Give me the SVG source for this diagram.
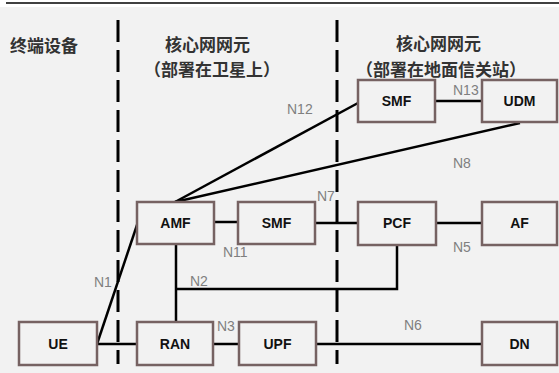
<svg xmlns="http://www.w3.org/2000/svg" width="559" height="373" viewBox="0 0 559 373">
<style>
.box{fill:#f2f2f2;stroke:#766262;stroke-width:2.5}
.bl{font-family:"Liberation Sans",Arial,sans-serif;font-weight:bold;font-size:14px;fill:#111;text-anchor:middle}
.ln{stroke:#000;stroke-width:2.5;fill:none}
.dash{stroke:#000;stroke-width:3;stroke-dasharray:22 8;fill:none}
.lab{font-family:"Liberation Sans",Arial,sans-serif;font-size:14px;fill:#7f7f7f}
.hd{font-family:"Noto Sans CJK SC","Noto Sans CJK JP",sans-serif;font-weight:bold;font-size:17px;fill:#333}
</style>
<rect x="0" y="0" width="559" height="373" fill="#f2f2f2"/>
<rect x="0" y="0" width="559" height="7" fill="#ffffff"/>
<line x1="6" y1="3" x2="559" y2="3" stroke="#404040" stroke-width="2"/>
<g id="headings">
<text class="hd" x="10" y="52">终端设备</text>
<text class="hd" x="165" y="51">核心网网元</text>
<text class="hd" x="144" y="76">（部署在卫星上）</text>
<text class="hd" x="396" y="50">核心网网元</text>
<text class="hd" x="356" y="76">（部署在地面信关站）</text>
</g>
<g id="dividers">
<line class="dash" x1="118" y1="20" x2="118" y2="364"/>
<line class="dash" x1="337" y1="20" x2="337" y2="364"/>
</g>
<g id="connectors">
<line class="ln" x1="97" y1="344" x2="137" y2="344"/>
<line class="ln" x1="97" y1="344" x2="138" y2="222"/>
<line class="ln" x1="213" y1="344" x2="239" y2="344"/>
<line class="ln" x1="316" y1="344" x2="482" y2="344"/>
<line class="ln" x1="176" y1="244" x2="176" y2="322"/>
<polyline class="ln" points="176,289 397,289 397,245"/>
<line class="ln" x1="214" y1="222" x2="238" y2="222"/>
<line class="ln" x1="315" y1="223" x2="358" y2="223"/>
<line class="ln" x1="436" y1="223" x2="482" y2="223"/>
<line class="ln" x1="435" y1="101" x2="482" y2="101"/>
<line class="ln" x1="175" y1="202" x2="358" y2="103"/>
<line class="ln" x1="175" y1="202" x2="520" y2="123"/>
</g>
<g id="labels">
<text class="lab" x="287" y="114">N12</text>
<text class="lab" x="453" y="95">N13</text>
<text class="lab" x="453" y="168">N8</text>
<text class="lab" x="317" y="201">N7</text>
<text class="lab" x="223" y="257">N11</text>
<text class="lab" x="190" y="286">N2</text>
<text class="lab" x="94" y="287">N1</text>
<text class="lab" x="217" y="331">N3</text>
<text class="lab" x="453" y="252">N5</text>
<text class="lab" x="404" y="330">N6</text>
</g>
<g id="node-ue"><rect class="box" x="19" y="322" width="78" height="43"/><text class="bl" x="58" y="349">UE</text></g>
<g id="node-ran"><rect class="box" x="137" y="322" width="76" height="43"/><text class="bl" x="175" y="349">RAN</text></g>
<g id="node-upf"><rect class="box" x="239" y="322" width="77" height="43"/><text class="bl" x="277.5" y="349">UPF</text></g>
<g id="node-dn"><rect class="box" x="482" y="322" width="75" height="43"/><text class="bl" x="519.5" y="349">DN</text></g>
<g id="node-amf"><rect class="box" x="137" y="202" width="77" height="42"/><text class="bl" x="175.5" y="228">AMF</text></g>
<g id="node-smf1"><rect class="box" x="238" y="202" width="77" height="42"/><text class="bl" x="276.5" y="228">SMF</text></g>
<g id="node-pcf"><rect class="box" x="358" y="202" width="78" height="43"/><text class="bl" x="397" y="228">PCF</text></g>
<g id="node-af"><rect class="box" x="482" y="202" width="75" height="43"/><text class="bl" x="519.5" y="228">AF</text></g>
<g id="node-smf2"><rect class="box" x="358" y="80" width="77" height="42"/><text class="bl" x="396.5" y="106">SMF</text></g>
<g id="node-udm"><rect class="box" x="482" y="80" width="75" height="42"/><text class="bl" x="519.5" y="106">UDM</text></g>
</svg>
